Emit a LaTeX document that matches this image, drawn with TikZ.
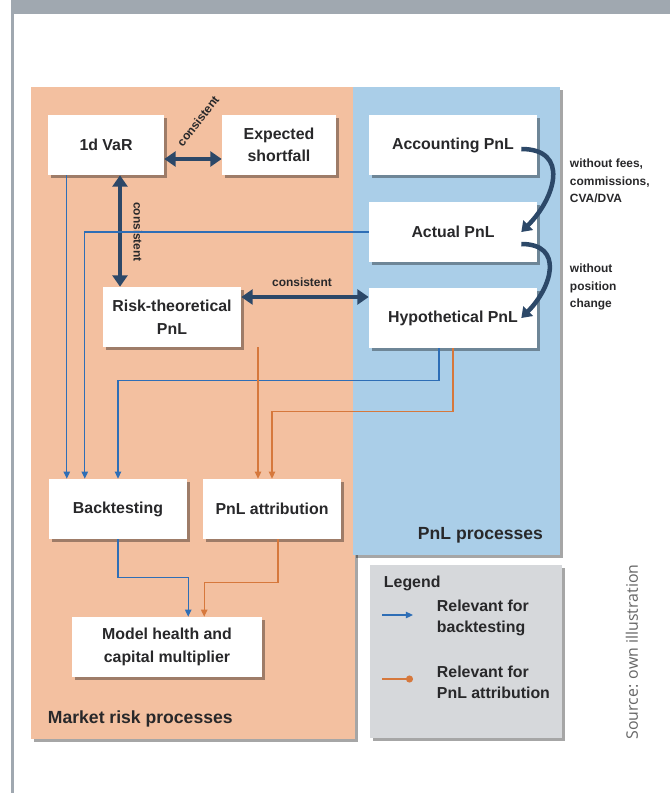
\documentclass[tikz,border=0pt]{standalone}
\usepackage{fontspec}
\setmainfont{Liberation Sans}
\newfontfamily\sourcefont{Open Sans}
\usetikzlibrary{arrows.meta,shadows}

\definecolor{riskbg}{RGB}{243,192,160}
\definecolor{pnlbg}{RGB}{170,206,232}
\definecolor{legendbg}{RGB}{214,216,219}
\definecolor{darkarrow}{RGB}{44,72,104}
\definecolor{btblue}{RGB}{46,110,182}
\definecolor{plaorange}{RGB}{214,120,60}
\definecolor{framegray}{RGB}{160,168,176}
\definecolor{boxtext}{RGB}{40,40,42}

\begin{document}
\begin{tikzpicture}[
    x=0.025cm, y=-0.025cm,
    dropshade/.style={drop shadow={shadow xshift=2pt, shadow yshift=-2pt, fill=black, opacity=0.35}},
    box/.style={rectangle, fill=white, minimum width=3.45cm, minimum height=1.5cm, align=center, text=boxtext, font=\fontsize{11.3}{16}\selectfont\bfseries, dropshade},
    keytext/.style={align=left, anchor=west, text=boxtext, font=\fontsize{11.3}{15}\selectfont\bfseries},
    small/.style={text=boxtext, font=\fontsize{8.5}{12.5}\selectfont\bfseries},
    link/.style={darkarrow, line width=3.5pt, {Triangle[length=8pt,width=10.5pt]}-{Triangle[length=8pt,width=10.5pt]}},
    derive/.style={darkarrow, line width=3.2pt, -{Triangle[length=7pt,width=9.5pt]}},
    btline/.style={btblue, line width=0.9pt, -{Triangle[length=5pt,width=4.5pt]}},
    plaline/.style={plaorange, line width=0.9pt, -{Triangle[length=5pt,width=4.5pt]}}
]
\useasboundingbox (0,0) rectangle (670,793);

% frame
\fill[framegray] (11,0) rectangle (670,14);
\fill[framegray] (11,14) rectangle (14,793);

% panels
\fill[riskbg, dropshade] (31,87) rectangle (355,739);
\fill[pnlbg, dropshade] (353,87) rectangle (560,555);
\fill[legendbg, dropshade] (370,565) rectangle (562,738);

\node[anchor=base west, text=boxtext, font=\fontsize{12.5}{14}\selectfont\bfseries] (risklabel) at (43,723) {Market risk processes};
\node[anchor=base east, text=boxtext, font=\fontsize{12.5}{14}\selectfont\bfseries] (pnllabel) at (548,539) {PnL processes};

% boxes
\node[box, minimum width=2.9cm] (var) at (106,145) {1d VaR};
\node[box, minimum width=2.85cm] (es) at (279,145) {Expected\\shortfall};
\node[box, minimum width=4.2cm] (acc) at (453,145) {Accounting PnL};
\node[box, minimum width=4.2cm] (act) at (453,232) {Actual PnL};
\node[box, minimum width=4.2cm] (hyp) at (453,318) {Hypothetical PnL};
\node[box] (rtp) at (172,317) {Risk-theoretical\\PnL};
\node[box] (bt) at (118,509) {Backtesting};
\node[box] (pla) at (272,509) {PnL attribution};
\node[box, minimum width=4.75cm] (mh) at (167,647) {Model health and\\capital multiplier};

% consistency links
\draw[link] ([yshift=-0.35cm]var.east) -- ([yshift=-0.35cm]es.west);
\draw[link] ([xshift=0.35cm]var.south) -- ([xshift=0.35cm]var.south |- rtp.north);
\draw[link] ([yshift=0.5cm]rtp.east) -- ([yshift=0.5cm]rtp.east -| hyp.west);
\node[small, rotate=52, inner sep=1pt] (cons1) at (198,121) {consistent};
\node[small, rotate=-90, inner sep=1pt] (cons2) at (138,232) {consistent};
\node[small, inner sep=1pt] (cons3) at (302,282) {consistent};

% PnL derivation
\draw[derive] ([xshift=-0.4cm,yshift=-0.1cm]acc.east) to[out=0, in=45, looseness=1.5] ([xshift=-0.4cm]act.east);
\draw[derive] ([xshift=-0.4cm,yshift=-0.3cm]act.east) to[out=0, in=45, looseness=1.5] ([xshift=-0.4cm]hyp.east);
\node[small, align=left, anchor=north west] (fees) at (565,154) {without fees,\\commissions,\\CVA/DVA};
\node[small, align=left, anchor=north west] (poschange) at (565,259) {without\\position\\change};

% backtesting inputs
\draw[btline] ([xshift=-0.98cm]var.south) -- ([xshift=-0.98cm]var.south |- bt.north);
\draw[btline] (act.west) -| ([xshift=-0.83cm]bt.north);
\draw[btline] ([xshift=-0.35cm]hyp.south) -- ++(0,32) -| (bt.north);

% PnL attribution inputs
\draw[plaline] ([xshift=2.15cm]rtp.south) -- ([xshift=2.15cm]rtp.south |- pla.north);
\draw[plaline] (hyp.south) -- ++(0,63) -| (pla.north);

% into model health
\draw[btline] (bt.south) -- ++(0,38) -| ([xshift=0.53cm]mh.north);
\draw[plaline] ([xshift=0.15cm]pla.south) -- ++(0,43) -| ([xshift=0.93cm]mh.north);

% legend
\node[keytext] (legendtitle) at (379,583) {Legend};
\coordinate (btkey0) at (382,615);
\coordinate (btkey1) at (413,615);
\coordinate (plakey0) at (382,679);
\coordinate (plakey1) at (413,679);
\draw[btline] (btkey0) -- (btkey1);
\draw[plaorange, line width=0.9pt, -{Circle[length=5pt]}] (plakey0) -- (plakey1);
\node[keytext] (btkey) at (432,618) {Relevant for\\backtesting};
\node[keytext] (plakey) at (432,682) {Relevant for\\PnL attribution};

% source
\node[rotate=90, text=black!60, font=\sourcefont\fontsize{11.3}{13}\selectfont] (source) at (632,652) {Source: own illustration};
\end{tikzpicture}
\end{document}
